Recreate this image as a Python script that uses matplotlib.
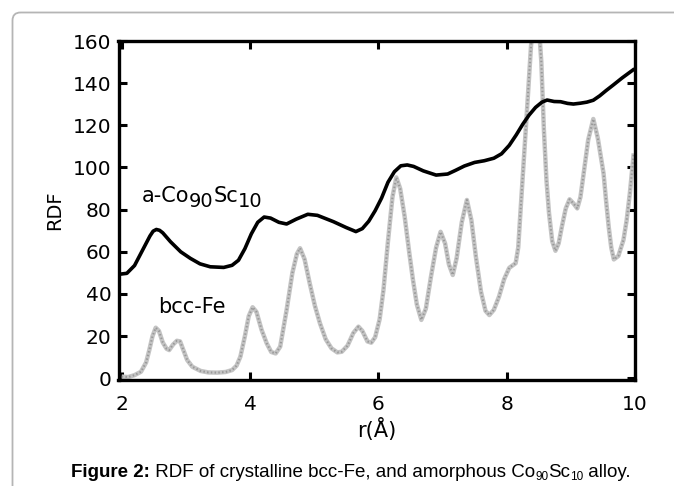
import matplotlib
matplotlib.use("Agg")
import matplotlib.pyplot as plt
from matplotlib.patches import FancyBboxPatch

# a-Co90Sc10 RDF (black curve): r [Å], RDF
r_aco = [2.00, 2.08, 2.20, 2.32, 2.44, 2.49, 2.54, 2.59, 2.64, 2.76, 2.92, 3.07, 3.22, 3.38,
         3.59, 3.72, 3.82, 3.92, 4.02, 4.12, 4.22, 4.32, 4.45, 4.57, 4.72, 4.90, 5.05, 5.30,
         5.50, 5.65, 5.75, 5.85, 5.95, 6.05, 6.15, 6.25, 6.35, 6.45, 6.55, 6.70, 6.90,
         7.08, 7.20, 7.34, 7.50, 7.65, 7.80, 7.92, 8.04, 8.15, 8.25, 8.35, 8.45, 8.55,
         8.63, 8.74, 8.84, 8.95, 9.04, 9.15, 9.25, 9.35, 9.45, 9.55, 9.66, 9.80, 9.97]
rdf_aco = [49.5, 49.8, 53.5, 60.5, 67.5, 69.8, 70.6, 70.2, 69.0, 64.8, 60.0, 56.9, 54.3, 52.9,
           52.6, 53.6, 56.0, 61.5, 68.5, 74.0, 76.5, 76.0, 74.0, 73.2, 75.5, 77.8, 77.3, 74.3,
           71.5, 69.6, 71.0, 74.5, 79.5, 85.5, 93.0, 98.0, 100.8, 101.2, 100.5, 98.4, 96.4,
           96.9, 98.6, 100.7, 102.4, 103.2, 104.4, 106.5, 110.5, 115.5, 120.5, 124.9, 128.5, 131.0,
           132.0, 131.3, 131.2, 130.4, 130.1, 130.5, 131.0, 131.9, 134.0, 136.5, 139.1, 142.5, 146.3]

# bcc-Fe RDF (grey dotted curve)
r_fe = [2.00, 2.10, 2.20, 2.30, 2.38, 2.43, 2.48, 2.53, 2.58, 2.64, 2.70, 2.74, 2.80, 2.86,
        2.91, 2.96, 3.02, 3.10, 3.23, 3.35, 3.49, 3.62, 3.72, 3.79, 3.85, 3.92, 3.98, 4.04,
        4.10, 4.18, 4.26, 4.33, 4.40, 4.47, 4.57, 4.66, 4.73, 4.78, 4.85, 4.93, 5.01, 5.09,
        5.18, 5.27, 5.36, 5.43, 5.52, 5.61, 5.69, 5.75, 5.83, 5.89, 5.95, 6.02, 6.08, 6.15,
        6.22, 6.28, 6.34, 6.41, 6.48, 6.54, 6.60, 6.67, 6.74, 6.82, 6.90, 6.97, 7.04, 7.10,
        7.16, 7.22, 7.30, 7.38, 7.45, 7.52, 7.60, 7.67, 7.73, 7.80, 7.88, 7.96, 8.04, 8.14,
        8.18, 8.22, 8.27, 8.32, 8.38, 8.43, 8.46, 8.50, 8.54, 8.58, 8.62, 8.66, 8.71, 8.76,
        8.81, 8.86, 8.92, 8.98, 9.04, 9.10, 9.15, 9.20, 9.27, 9.35, 9.42, 9.51, 9.55, 9.59,
        9.63, 9.67, 9.74, 9.82, 9.87, 9.92, 9.98]
rdf_fe = [0.8, 0.6, 1.5, 3.1, 7.5, 13.4, 20.0, 24.0, 22.5, 17.0, 14.0, 13.4, 16.0, 17.8,
          17.5, 13.5, 8.7, 5.5, 3.5, 2.8, 2.7, 3.0, 3.9, 6.0, 10.3, 20.0, 29.5, 33.7,
          31.5, 23.0, 16.6, 12.5, 11.8, 15.0, 32.4, 50.0, 59.0, 61.7, 56.5, 45.1, 34.5, 26.1,
          18.5, 14.2, 12.3, 12.6, 15.5, 21.5, 24.5, 22.5, 17.5, 16.9, 19.5, 28.0, 42.0, 65.0,
          86.0, 95.3, 90.0, 76.7, 60.0, 46.6, 35.0, 27.7, 33.0, 48.2, 62.0, 69.5, 64.0, 54.0,
          49.0, 57.0, 74.0, 84.6, 75.0, 57.7, 41.0, 32.0, 30.0, 32.5, 38.7, 47.0, 52.4, 54.6,
          62.0, 81.4, 105.0, 128.8, 158.0, 170.0, 172.0, 168.0, 150.0, 118.0, 94.0, 78.3, 65.0, 60.5,
          64.0, 71.9, 80.5, 84.9, 83.0, 80.6, 86.0, 97.2, 113.0, 123.0, 114.0, 97.2, 84.0, 71.9,
          62.0, 56.4, 58.0, 65.6, 75.0, 87.8, 106.7]

x_ticks = [2, 4, 6, 8, 10]
y_ticks = [0, 20, 40, 60, 80, 100, 120, 140, 160]

W, H = 674, 486
CAP_FONT = ["Liberation Sans Narrow", "Liberation Sans", "DejaVu Sans"]

fig = plt.figure(figsize=(W / 100, H / 100), dpi=100)

# background layer in pixel units: rounded frame + free text
bg = fig.add_axes((0, 0, 1, 1), zorder=0)
bg.set_xlim(0, W)
bg.set_ylim(H, 0)
bg.axis("off")
bg.add_patch(FancyBboxPatch((12.5, 12.5), 700, 500, boxstyle="round,pad=0,rounding_size=8",
                            fc="none", ec="#b5b5b5", lw=1.3))

ax = fig.add_axes((118.5 / W, 1 - 380 / H, (635 - 118.5) / W, (380 - 41) / H), zorder=1)
ax.patch.set_alpha(0)
ax.plot(r_fe, rdf_fe, color="#c4c4c4", lw=3.2, solid_capstyle="butt")
ax.plot(r_fe, rdf_fe, color="#999999", lw=1.5, dashes=(0.7, 1.1))
ax.plot(r_aco, rdf_aco, color="black", lw=2.6)

ax.set_xlim(1.95, 10.0)
ax.set_ylim(-0.8, 160)
ax.set_xticks(x_ticks)
ax.set_yticks(y_ticks)
for s in ax.spines.values():
    s.set_linewidth(2.4)
ax.tick_params(direction="in", length=6, width=2.2, top=True, right=True, labelsize=14.5)
ax.tick_params(axis="x", pad=11)
ax.tick_params(axis="y", pad=5)
ax.set_ylabel("RDF", fontsize=14, labelpad=6)
ax.set_xlabel("r(Å)", fontsize=15, labelpad=3)


def run_text(x, y, pieces):
    """Write text pieces one after another on the pixel layer; each piece is
    (text, dy in px, fontsize, weight, family)."""
    rend = fig.canvas.get_renderer()
    for txt, dy, size, weight, fam in pieces:
        t = bg.text(x, y + dy, txt, fontsize=size, fontweight=weight, family=fam,
                    ha="left", va="baseline")
        bb = t.get_window_extent(renderer=rend)
        x += bb.width


run_text(141.5, 202, [("a-Co", 0, 15, "normal", "DejaVu Sans"),
                      ("90", 5, 14, "normal", "DejaVu Sans"),
                      ("Sc", 0, 15, "normal", "DejaVu Sans"),
                      ("10", 5, 14, "normal", "DejaVu Sans")])
bg.text(158, 313, "bcc-Fe", fontsize=15, ha="left", va="baseline")

run_text(71, 477, [("Figure 2:", 0, 13.5, "bold", CAP_FONT),
                   (" RDF of crystalline bcc-Fe, and amorphous Co", 0, 13.5, "normal", CAP_FONT),
                   ("90", 3, 8.5, "normal", CAP_FONT),
                   ("Sc", 0, 13.5, "normal", CAP_FONT),
                   ("10", 3, 8.5, "normal", CAP_FONT),
                   (" alloy.", 0, 13.5, "normal", CAP_FONT)])

fig.savefig("out.png", dpi=100)
